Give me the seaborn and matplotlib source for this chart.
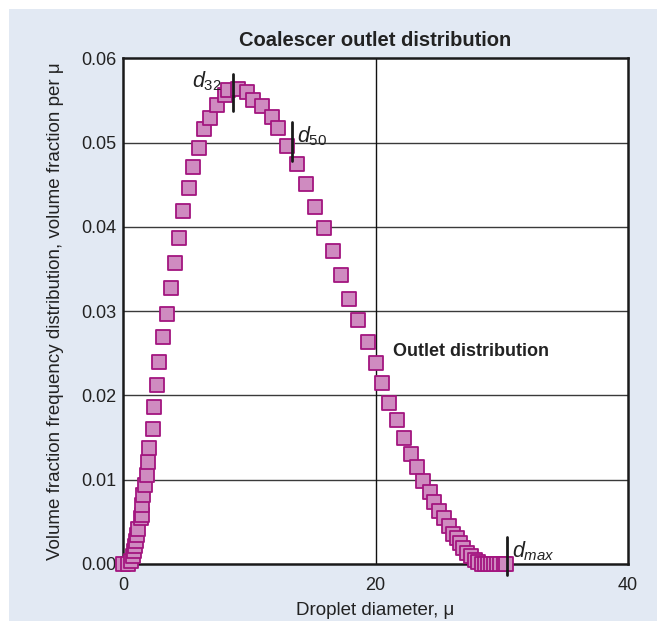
import numpy as np
import pandas as pd
import seaborn as sns
from matplotlib import pyplot as plt
from matplotlib.patches import Rectangle

# datos (diametro en micrones, fraccion de volumen por micron)
diametro = [0.0, 0.42, 0.61, 0.77, 0.87, 0.95, 1.01, 1.09, 1.21, 1.40, 1.48, 1.50,
            1.56, 1.74, 1.93, 1.96, 2.08, 2.35, 2.46, 2.72, 2.88, 3.19, 3.46, 3.78,
            4.12, 4.46, 4.73, 5.21, 5.52, 6.02, 6.44, 6.89, 7.42, 8.10, 8.30, 9.09,
            9.80, 10.33, 11.04, 11.78, 12.26, 12.97, 13.76, 14.50, 15.24, 15.90,
            16.62, 17.30, 17.90, 18.60, 19.39, 20.02, 20.50, 21.08, 21.69, 22.27,
            22.82, 23.27, 23.75, 24.33, 24.67, 25.06, 25.46, 25.83, 26.12, 26.44,
            26.70, 26.97, 27.28, 27.55, 27.89, 28.15, 28.40, 28.65, 28.90, 29.15,
            29.40, 29.65, 29.90, 30.15, 30.35]
fraccion = [0.0, 0.0, 0.0004, 0.0009, 0.0015, 0.0021, 0.0027, 0.0034, 0.0042, 0.0054,
            0.0058, 0.0070, 0.0082, 0.0094, 0.0106, 0.0121, 0.0138, 0.0160, 0.0186,
            0.0212, 0.0240, 0.0269, 0.0297, 0.0328, 0.0357, 0.0387, 0.0419, 0.0446,
            0.0471, 0.0494, 0.0516, 0.0529, 0.0545, 0.0556, 0.0562, 0.0564, 0.0560,
            0.0551, 0.0543, 0.0530, 0.0517, 0.0496, 0.0475, 0.0451, 0.0424, 0.0399,
            0.0372, 0.0343, 0.0315, 0.0290, 0.0263, 0.0239, 0.0215, 0.0191, 0.0171,
            0.0150, 0.0131, 0.0115, 0.0099, 0.0086, 0.0074, 0.0063, 0.0054, 0.0045,
            0.0036, 0.0031, 0.0025, 0.0019, 0.0013, 0.0009, 0.0005, 0.0002, 0.0,
            0.0, 0.0, 0.0, 0.0, 0.0, 0.0, 0.0, 0.0]

# diametros caracteristicos: (etiqueta, x, y de abajo, y de arriba)
marcas = [(r'$d_{\mathit{32}}$', 8.69, 0.0538, 0.0582),
          (r'$d_{\mathit{50}}$', 13.42, 0.0478, 0.0524),
          (r'$d_{\mathit{max}}$', 30.4, -0.0013, 0.0032)]

sns.set_style('white')
plt.rcParams['font.family'] = ['Liberation Sans Narrow', 'Liberation Sans', 'DejaVu Sans']
plt.rcParams['mathtext.fontset'] = 'custom'
plt.rcParams['mathtext.it'] = 'Liberation Sans:italic'
plt.rcParams['mathtext.rm'] = 'Liberation Sans'

fig = plt.figure(figsize=(6.57, 6.23), dpi=100, facecolor='white')
fig.patches.append(Rectangle((9 / 657, 2 / 623), 1, 612 / 623, transform=fig.transFigure,
                             facecolor='#e2e9f3', edgecolor='none', zorder=-10))
ax = fig.add_axes([123 / 657, 59 / 623, 505 / 657, 505.6 / 623])
ax.set_facecolor('white')

df = pd.DataFrame({'diametro': diametro, 'fraccion': fraccion})
sns.scatterplot(data=df, x='diametro', y='fraccion', marker='s', s=95,
                color='#cf8bc0', edgecolor='#a3157f', linewidth=1.3,
                clip_on=False, zorder=3, ax=ax, legend=False)

ax.set_xlim(0, 40)
ax.set_ylim(0, 0.06)
ax.set_xticks([0, 20, 40])
ax.set_yticks([0.0, 0.01, 0.02, 0.03, 0.04, 0.05, 0.06])
ax.set_yticklabels(['0.00', '0.01', '0.02', '0.03', '0.04', '0.05', '0.06'])
ax.tick_params(length=0, labelsize=13, colors='#222222')
ax.tick_params(axis='y', pad=5)
ax.tick_params(axis='x', pad=9)

for yv in [0.01, 0.02, 0.03, 0.04, 0.05]:
    ax.axhline(yv, color='#3a3a3a', lw=1.0, zorder=1)
ax.axvline(20, color='#111111', lw=1.0, zorder=1)
for sp in ax.spines.values():
    sp.set_color('#1a1a1a')
    sp.set_linewidth(1.8)

for etiqueta, xm, y0, y1 in marcas:
    ax.plot([xm, xm], [y0, y1], color='#1a1a1a', lw=2, zorder=4, clip_on=False)
ax.text(7.8, 0.0573, marcas[0][0], fontsize=15.5, ha='right', va='center', color='#222222')
ax.text(13.8, 0.0508, marcas[1][0], fontsize=15.5, ha='left', va='center', color='#222222')
ax.text(30.8, 0.0015, marcas[2][0], fontsize=15.5, ha='left', va='center', color='#222222')

ax.text(21.4, 0.0252, 'Outlet distribution', fontsize=13, fontweight='bold',
        ha='left', va='center', color='#222222')
ax.set_title('Coalescer outlet distribution', fontsize=14.5, fontweight='bold',
             color='#222222', pad=9)
ax.set_xlabel('Droplet diameter, μ', fontsize=13.5, color='#222222', labelpad=6)
ax.set_ylabel('Volume fraction frequency distribution, volume fraction per μ',
              fontsize=13.5, color='#222222', labelpad=12)

fig.savefig('out.png', dpi=100, facecolor='white')
